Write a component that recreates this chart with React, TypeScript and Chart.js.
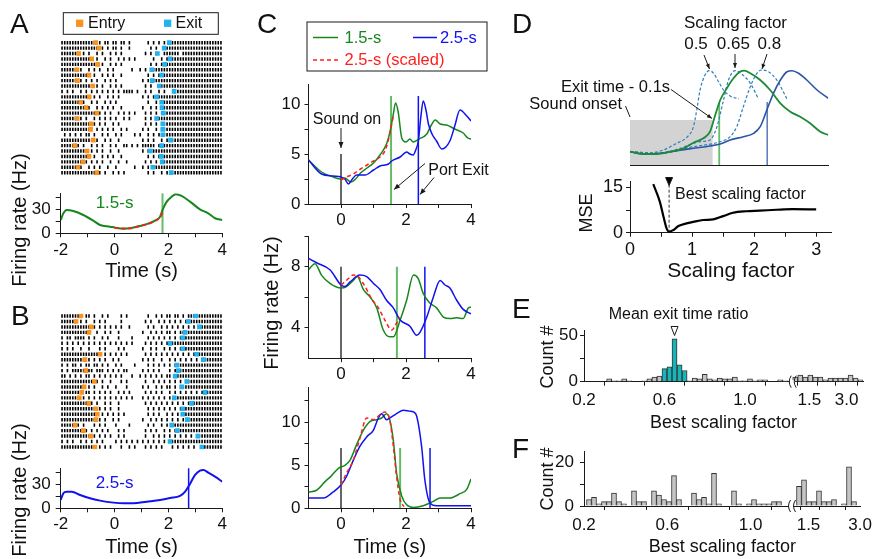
import React, { useEffect, useRef } from "react";
import { Chart, registerables } from "chart.js";

Chart.register(...registerables);

const W = 872;
const H = 559;
const FONT = "'Liberation Sans', Arial, Helvetica, sans-serif";
const INK = "#1a1a1a";

const GREEN = "#16871c";
const LIGHT_GREEN = "#66bb66";
const BLUE = "#1212ee";
const RED = "#ff1e1e";
const ORANGE = "#f7931e";
const CYAN = "#22b2ef";
const D_GREEN = "#1c8a36";
const D_BLUE = "#2d55a6";
const D_DASH = "#2f7fc1";
const TEAL = "#17b5b8";
const GREY = "#c4c4c4";

// ---------------- A / B rasters ----------------
const RASTER_START = -2;
const RASTER_BIN = 0.1;
const A_TRIALS = [
  "1111111111 111.1.11.1 1.11.1.... ..1.1.1.1. 1111111111 1111111111",
  "1111111111 1111.1.1.1 1.1..1.... ...1.1..11 1111111111 1111111111",
  "1111111.1. 1..1.1..1. 1.1....... .1.1.1..11 1111.11111 1111111111",
  "1111111111 11.1..1.1. .1.1.1.1.. ....1..1.1 .111111111 1111111111",
  "1111111111 1111.1..1. 1.1....... ...1.1.1.1 1111111111 1111111111",
  "111111.1.. 1.1.1..1.1 ......1..1 .1.1111111 1111111111 1111111111",
  "1111111111 1.1..1.1.1 ..1....... ..1.1.1.11 1111111111 1111111111",
  "111111.1.1 .1.1..1.1. 1......... 1.1.111111 1111111111 1111111111",
  "1111111111 11.1.1..1. 1.1....... .1.1..1111 1111111111 1111111111",
  "1.1.1..1.1 .1.1.1.1.1 .1.1111.1. .1.1..1.1. ..11111111 1111111111",
  "1111111111 1.1.1..1.1 .1........ 1.1.1.1111 1111111111 1111111111",
  "1111111.1. .1.1..1.1. 1......... ..1..1..11 1111111111 1111111111",
  "111111111. 1..1.1.1.1 ..1....... 1..1.1..11 1111111111 1111111111",
  "1111111111 111.1.1.1. .1.1.1.1.. .1.1.1.111 1111111111 1111111111",
  "111111.1.1 ..1.1.1.1. 1..1.1.... .1.1.11111 1111111111 1111111111",
  "1111111111 1.1.1.1..1 .1........ .1.1.1..11 1111111111 1111111111",
  "1111111111 1..1.1.1.1 ..1.1..... 1.1..1.111 1111111111 1111111111",
  ".1.1.1.1.1 1.1..1.1.. 1.1....1.1 ..1.1.1.11 1111111111 1111111111",
  "1111111111 11.1..1.1. .1........ 1.1.1..1.1 .111111111 1111111111",
  "11111.1.1. .1.1.1..1. 1..11.1.1. 11111.1.11 1111111111 1111111111",
  "1111111111 .1.1.1..1. .1........ 1.11111111 1111111111 1111111111",
  "1111111111 1.1..1.1.1 ..1....... ..1.1.1111 1111111111 1111111111",
  "11111111.1 .1.1.1..1. .1..1..... .1.1.1..11 1111111111 1111111111",
  "111111.1.. 1.1.1..1.. 1......1.. 1.1.111111 1111111111 1111111111",
  "1111111111 111.1.1..1 .1.1...... ..1.1..1.1 .111111111 1111111111",
];
const A_ENTRY = [-0.7, -0.58, -1.33, -0.85, -0.63, -1.4, -0.95, -1.38, -0.81, null, -0.94, -1.26, -1.06, -0.66, -1.39, -0.87, -0.89, null, -0.79, -1.48, -1.02, -0.95, -1.18, -1.36, -0.66];
const A_EXIT = [2.03, 1.84, 1.59, 2.06, 1.86, 1.38, 1.75, 1.4, 1.66, 2.21, 1.56, 1.75, 1.76, 1.81, 1.56, 1.79, 1.79, 1.79, 2.08, 1.75, 1.33, 1.73, 1.77, 1.42, 2.1];

const B_TRIALS = [
  "11111111.1 1.1..1.1.. ..1.1..... ..1..1.1.1 1.11.1.111 1111111111",
  "111111.1.1 ..1.1.1... ..1....... .1.1..1.1. 1.1.1.1111 1111111111",
  "1111111111 1.1.1.1.1. 1.1..1.... ..1.1..1.1 .1.1.1.1.1 ..11111111",
  "1111111111 1..1..1.1. .1........ 1..1.1.1.1 1.1.111111 1111111111",
  "1.11.1111. 1.1..1.1.. .1....1... ..1.1.1.1. 1.1.111111 1111111111",
  "1.1.1.1.1. 1.1.1.1.1. 1.1.1.1... .1.1.1.1.1 .111111111 1111111111",
  "1.1.1..1.. 1...1.1... .1.1...... 1..1.1..1. 1.1.111111 1111111111",
  "1111111111 11111.1.1. 1.1.1..... .1.1.1.1.1 .1.1.1.1.1 1111111111",
  "111111111. 1.1.1.1..1 .1........ 1.1.1..1.. 1.1.1.1.1. 1.11111111",
  "1.1.11.1.1 1.11.1.1.. 1.1....1.. ..1.1.1.1. 1.11111111 1111111111",
  "1.1.11111. 11.111.1.1 .1.11..... 1.1.1.1... 1.1.111111 1111111111",
  "11.1.1.1.1 1.1.1.1.1. 1.1...1..1 .1.1.1.1.1 1.11111111 1111111111",
  "1111111111 11.1.1..1. ..1.1..... .1..1.1.1. 1.1.1.1111 1111111111",
  "111111111. 1.1..1.1.. 1...1..... 1.1..1.1.1 1.1.111111 1111111111",
  "11111111.1 1.1.1.1.1. .1.1.1.... .1.1.1.1.. 1.1.1.1.1. 1.11111111",
  "1111111.1. 1.1.1.1.1. 1.1.1.1... 1.1.1.1.1. 1.11111111 1111111111",
  "1111111111 .1.1..1.1. .1........ .1.1.1.1.1 .1.1.1.1.1 1111111111",
  "1111111111 111.1.1.1. .1........ ..1.1.1.1. 1.1.111111 1111111111",
  "1111111111 1111.1.1.1 .1.1...... ..1.1.1..1 .1.1.11111 1111111111",
  "1111111111 111.1.1..1 .1........ 1..1.1.1.1 .1.1.1.111 1111111111",
  "11111.1.1. ..1.1.1... 1....1.... ..1.1..1.1 .111111111 1111111111",
  "11111111.1 .1.1.1.1.. .1.1...... .1.1.1..1. 1.11111111 1111111111",
  "1111111111 1.1.1.1.1. .1.1...... .1..1.1.1. 1.1.1.1.1. .111111111",
  "1.1.1..1.1 .1.1.1.... 1.1.1.1.1. 1.1.1.1.1. .111111111 1111111111",
  "1111111111 111.1.1.1. ..1..1.1.. .1.1.1.1.. .1.1.1.1.1 ..11111111",
];
const B_ENTRY = [-1.25, -1.43, -0.87, -0.95, null, null, null, -0.54, -1.1, null, -1.07, null, -0.75, -1.13, -1.22, -1.31, -0.96, -0.69, -0.64, -0.69, -1.47, -1.16, -0.89, null, -0.73];
const B_EXIT = [3.01, 2.74, 3.15, 2.62, 2.53, 2.06, 2.53, 3.05, 3.3, 2.31, 2.37, 2.25, 2.68, 2.5, 3.36, 2.22, 2.86, 2.53, 2.53, 2.7, 2.12, 2.33, 3.09, 2.06, 3.24];

// ---------------- A / B firing rate ----------------
const TIME_TICKS = [-2, -1, 0, 1, 2, 3, 4];
const TIME_LABELS = ["-2", "", "0", "", "2", "", "4"];
const RATE_TICKS = [0, 15, 30, 45];
const RATE_LABELS = ["0", "", "30", ""];
const A_TIME = [-2, -1.9, -1.78, -1.53, -1.16, -0.79, -0.54, -0.17, 0.02, 0.33, 0.57, 0.95, 1.25, 1.5, 1.69, 1.79, 1.94, 2.12, 2.28, 2.49, 2.8, 3.17, 3.48, 3.73, 4];
const A_RATE = [16.7, 25, 29.2, 27.9, 22.9, 15.8, 10.4, 8.3, 7.1, 5.8, 6.3, 9.2, 12.1, 15.8, 20.8, 30, 39.6, 45.8, 48.8, 46.7, 39.6, 30, 25, 18.8, 16.7];
const A_SCALED_TIME = [0, 0.3, 0.6, 0.9, 1.2, 1.5, 1.7, 1.8];
const A_SCALED_RATE = [7.0, 6.0, 6.3, 8.8, 11.5, 15.5, 20.5, 27];
const A_MEAN_EXIT = 1.78;
const B_TIME = [-2, -1.9, -1.78, -1.59, -1.28, -0.91, -0.54, -0.04, 0.33, 0.7, 1.19, 1.69, 2.06, 2.43, 2.62, 2.78, 2.99, 3.17, 3.3, 3.48, 3.73, 4];
const B_RATE = [10.4, 18.8, 20.8, 20.8, 16.7, 12.5, 9.6, 7.1, 6.3, 6.3, 8.3, 10.4, 12.9, 15.4, 20.8, 29.2, 41.7, 47.1, 47.9, 44.6, 39.6, 33.3];
const B_MEAN_EXIT = 2.75;

// ---------------- C ----------------
const C_TICKS = [0, 1, 2, 3, 4];
const C_LABELS = ["0", "", "2", "", "4"];
const C1_GREEN_T = [-1, -0.6, -0.24, 0, 0.12, 0.3, 0.45, 0.6, 0.8, 1.0, 1.2, 1.4, 1.5, 1.6, 1.68, 1.76, 1.87, 2.0, 2.12, 2.22, 2.4, 2.64, 2.78, 2.9, 3.05, 3.25, 3.5, 3.76, 3.9, 4.0];
const C1_GREEN = [4.4, 3.2, 2.7, 2.5, 2.6, 2.2, 2.5, 3.1, 3.6, 4.1, 4.9, 6.0, 7.1, 8.8, 10.1, 9.2, 6.6, 6.2, 6.5, 6.2, 6.5, 7.0, 7.9, 8.4, 8.0, 7.9, 7.5, 7.1, 6.6, 6.5];
const C1_BLUE_T = [-1, -0.6, -0.24, 0, 0.12, 0.23, 0.35, 0.48, 0.74, 1.0, 1.2, 1.46, 1.56, 1.82, 2.02, 2.12, 2.22, 2.3, 2.38, 2.45, 2.53, 2.62, 2.69, 2.8, 2.94, 3.1, 3.35, 3.5, 3.66, 3.87, 4.0];
const C1_BLUE = [4.4, 3.0, 2.8, 2.7, 2.5, 2.0, 2.5, 2.9, 2.9, 3.4, 3.8, 4.0, 4.3, 4.7, 5.2, 5.0, 4.9, 5.4, 6.3, 8.5, 10.3, 9.3, 8.0, 7.0, 6.3, 5.5, 6.3, 7.8, 9.4, 8.8, 8.3];
const C1_RED_T = [0, 0.17, 0.38, 0.6, 0.8, 1.0, 1.2, 1.35, 1.45, 1.55, 1.61];
const C1_RED = [2.4, 2.7, 3.0, 3.5, 3.9, 4.3, 4.7, 5.3, 6.3, 7.8, 8.8];
const C1_EXITS = [1.54, 2.38];

const C2_BLUE_T = [-1, -0.75, -0.34, 0, 0.12, 0.28, 0.58, 0.79, 1.0, 1.2, 1.4, 1.61, 1.82, 2.12, 2.33, 2.43, 2.64, 2.84, 3.05, 3.2, 3.35, 3.56, 3.76, 4.0];
const C2_BLUE = [8.55, 8.26, 7.8, 6.8, 6.7, 7.0, 7.45, 7.35, 6.9, 6.5, 5.8, 5.3, 4.5, 4.1, 3.5, 3.7, 4.7, 6.0, 7.1, 6.8, 6.6, 5.8, 5.2, 4.9];
const C2_GREEN_T = [-1, -0.8, -0.6, -0.34, 0, 0.17, 0.38, 0.5, 0.69, 0.9, 1.1, 1.3, 1.5, 1.61, 1.82, 2.02, 2.23, 2.38, 2.53, 2.74, 2.94, 3.15, 3.35, 3.56, 3.76, 3.92, 4.0];
const C2_GREEN = [7.8, 8.2, 7.45, 6.9, 6.6, 6.7, 7.1, 7.35, 6.5, 6.0, 5.3, 3.85, 3.4, 3.4, 4.5, 5.8, 7.45, 7.2, 6.25, 5.6, 5.3, 4.7, 4.6, 4.65, 4.6, 5.3, 5.35];
const C2_RED_T = [0, 0.17, 0.38, 0.53, 0.74, 0.94, 1.15, 1.35, 1.56, 1.71, 1.8];
const C2_RED = [6.8, 7.1, 7.45, 7.35, 6.7, 5.9, 5.3, 4.5, 3.85, 4.3, 4.7];
const C2_EXITS = [1.72, 2.58];

const C3_GREEN_T = [-1, -0.75, -0.49, -0.29, -0.08, 0.12, 0.28, 0.48, 0.69, 0.9, 1.1, 1.25, 1.4, 1.5, 1.61, 1.71, 1.87, 2.02, 2.23, 2.53, 2.84, 3.05, 3.35, 3.66, 3.87, 4.0];
const C3_GREEN = [1.9, 2.1, 3.1, 3.8, 4.65, 5.0, 5.6, 7.4, 9.1, 10.1, 10.3, 10.5, 11.0, 10.3, 7.9, 4.1, 1.4, 0.4, 0.1, 0.3, 0.8, 1.2, 1.2, 1.7, 2.2, 3.4];
const C3_BLUE_T = [-1, -0.54, -0.24, 0, 0.17, 0.38, 0.58, 0.79, 1.0, 1.15, 1.25, 1.4, 1.5, 1.71, 1.92, 2.1, 2.23, 2.33, 2.48, 2.58, 2.74, 2.94, 3.35, 4.0];
const C3_BLUE = [1.2, 1.2, 1.9, 2.7, 3.7, 5.6, 7.2, 8.3, 9.1, 10.5, 11.0, 10.3, 10.5, 11.0, 11.4, 11.3, 11.2, 10.7, 7.2, 3.3, 0.6, 0.3, 0.3, 0.3];
const C3_RED_T = [0, 0.17, 0.38, 0.58, 0.79, 1.0, 1.2, 1.35, 1.5, 1.61, 1.71, 1.82, 1.94];
const C3_RED = [2.7, 4.1, 5.6, 8.1, 10.5, 10.3, 10.9, 11.2, 10.3, 7.2, 3.7, 1.0, 0.2];
const C3_EXITS = [1.82, 2.74];

// ---------------- D ----------------
const D_GREEN_X = [0, 0.4, 0.81, 1.21, 1.62, 1.92, 2.22, 2.42, 2.58, 2.73, 2.93, 3.13, 3.33, 3.46, 3.64, 3.94, 4.24, 4.55, 4.85, 5.15, 5.45, 5.76, 6.0];
const D_GREEN_Y = [1.33, 1.1, 1.1, 1.33, 1.67, 2.23, 2.67, 3.33, 5.0, 6.5, 7.67, 8.67, 9.33, 9.43, 9.17, 8.5, 7.5, 6.17, 5.33, 4.83, 4.17, 3.33, 3.0];
const D_BLUE_X = [0, 0.4, 0.91, 1.41, 1.92, 2.42, 2.73, 3.03, 3.43, 3.74, 3.94, 4.14, 4.34, 4.55, 4.75, 4.9, 5.1, 5.35, 5.66, 6.0];
const D_BLUE_Y = [1.33, 1.1, 1.17, 1.43, 1.67, 1.9, 2.1, 2.5, 2.83, 3.17, 3.83, 5.5, 7.17, 8.5, 9.33, 9.43, 9.17, 8.5, 7.5, 6.67];
const D_S050_X = [0, 0.5, 1.01, 1.41, 1.72, 1.92, 2.02, 2.12, 2.27, 2.4, 2.53, 2.68, 2.83, 3.03, 3.3];
const D_S050_Y = [1.33, 1.17, 1.5, 2.17, 2.77, 3.83, 5.5, 7.5, 9.0, 9.43, 9.17, 8.33, 7.5, 6.9, 6.6];
const D_S065_X = [0, 0.91, 1.52, 2.12, 2.42, 2.63, 2.83, 2.98, 3.18, 3.38, 3.64, 3.89];
const D_S065_Y = [1.33, 1.17, 1.67, 2.33, 2.5, 3.83, 6.5, 8.5, 9.43, 9.1, 8.17, 6.6];
const D_S080_X = [0, 0.91, 1.92, 2.73, 3.03, 3.23, 3.43, 3.64, 3.84, 3.99, 4.19, 4.44, 4.75];
const D_S080_Y = [1.33, 1.17, 1.83, 2.33, 2.83, 3.83, 5.83, 7.83, 9.17, 9.5, 9.33, 8.5, 6.6];
const D_EXIT_GREEN = 2.7;
const D_EXIT_BLUE = 4.15;
const D_WINDOW_END = 2.5;
const D_WINDOW_TOP = 4.5;

const MSE_X = [0.375, 0.48, 0.54, 0.59, 0.63, 0.7, 0.78, 0.91, 1.02, 1.18, 1.34, 1.5, 1.66, 1.87, 2.09, 2.36, 2.62, 3.0];
const MSE_Y = [16.1, 10.3, 5.3, 1.4, 0.3, 0.9, 2.2, 3.1, 3.6, 4.2, 4.4, 5.5, 6.6, 7.1, 7.3, 7.6, 7.8, 7.7];
const BEST_FACTOR = 0.63;
const MSE_X_TICKS = [0, 0.5, 1, 1.5, 2, 2.5, 3];
const MSE_X_LABELS = ["0", "", "1", "", "2", "", "3"];

// ---------------- E / F histograms ----------------
const E_LEFT_COUNTS = [0, 0, 0, 0, 0, 3, 1, 1, 3, 1, 0, 0, 1, 3, 5, 6, 14, 16, 46, 18, 12, 1, 4, 3, 8, 3, 2, 4, 3, 3, 5, 1, 1, 3, 1, 2, 2, 0, 0, 2, 1];
const E_RIGHT_COUNTS = [5, 7, 5, 7, 5, 5, 2, 4, 4, 4, 4, 7, 4, 2];
const E_HIGHLIGHT_BINS = [16, 17, 18, 19, 20];
const E_MEAN_RATIO = 0.65;
const F_LEFT_COUNTS = [0, 3, 4, 1, 2, 2, 6, 2, 1, 0, 7, 2, 2, 0, 7, 5, 3, 2, 14, 3, 0, 0, 6, 3, 4, 1, 15, 1, 0, 0, 7, 1, 0, 1, 3, 1, 1, 1, 2, 2];
const F_RIGHT_COUNTS = [9, 12, 2, 2, 7, 2, 2, 3, 0, 1, 18, 2];
const FACTOR_TICKS = [0.2, 0.4, 0.6, 0.8, 1.0, 1.2, 1.5, 2.0, 3.0];
const FACTOR_LABELS = ["0.2", "", "0.6", "", "1.0", "", "1.5", "", "3.0"];

// broken-axis transforms (value -> bin coordinate)
const E_RIGHT_START = 42;
const F_RIGHT_START = 43;
const eBin = (v: number) => (v <= 1.3 ? (v - 0.2) / 0.025 : 44.8 + 10.7 * Math.log(v / 1.5));
const fBin = (v: number) => (v <= 1.3 ? (v - 0.2) / 0.024 : 44.9 + 14.9 * Math.log(v / 1.5));

// ---------------- helpers ----------------
const pts = (xs: number[], ys: number[]) => xs.map((x, i) => ({ x, y: ys[i] }));

function curve(xs: number[], ys: number[], color: string, w = 1.5, dash: number[] = [], order = 1) {
  return {
    type: "line",
    data: pts(xs, ys),
    borderColor: color,
    borderWidth: w,
    borderDash: dash,
    pointRadius: 0,
    fill: false,
    cubicInterpolationMode: "monotone",
    order,
  };
}
function vline(x: number, y0: number, y1: number, color: string, w = 1.5, dash: number[] = [], order = 3) {
  return {
    type: "line",
    data: [{ x, y: y0 }, { x, y: y1 }],
    borderColor: color,
    borderWidth: w,
    borderDash: dash,
    pointRadius: 0,
    tension: 0,
    order,
  };
}

function rasterSets(trials: string[], entry: (number | null)[], exit: number[]) {
  const spikes: any[] = [];
  trials.forEach((row, k) => {
    const s = row.replace(/\s/g, "");
    for (let i = 0; i < s.length; i++) {
      if (s[i] === "1") spikes.push({ x: RASTER_START + (i + 0.5) * RASTER_BIN, y: k + 1 });
    }
  });
  const ent = entry.map((t, k) => (t == null ? null : { x: t, y: k + 1 })).filter(Boolean);
  const ex = exit.map((t, k) => ({ x: t, y: k + 1 }));
  return [
    { data: spikes, pointStyle: "line", pointRotation: 90, pointRadius: 1.7, borderColor: "#000", pointBorderColor: "#000", pointBorderWidth: 1.6, borderWidth: 1.6, order: 2 },
    { data: ent, pointStyle: "rect", pointRadius: 3.3, pointBackgroundColor: ORANGE, backgroundColor: ORANGE, pointBorderWidth: 0, borderWidth: 0, order: 0 },
    { data: ex, pointStyle: "rect", pointRadius: 3.3, pointBackgroundColor: CYAN, backgroundColor: CYAN, pointBorderWidth: 0, borderWidth: 0, order: 0 },
  ];
}

function histSet(left: number[], right: number[], rightStart: number, highlight: number[]) {
  const data: any[] = [];
  left.forEach((c, i) => { if (c > 0) data.push({ x: i, y: c }); });
  right.forEach((c, j) => { if (c > 0) data.push({ x: rightStart + j, y: c }); });
  return {
    type: "bar",
    data,
    backgroundColor: (ctx: any) => (ctx.raw && highlight.includes(ctx.raw.x) ? TEAL : GREY),
    borderColor: "#333",
    borderWidth: 1,
    barPercentage: 1,
    categoryPercentage: 1,
  };
}

function axis(ax: any, isX: boolean, size: number) {
  const hasTicks = !!ax.ticks && ax.ticks.length > 0;
  return {
    type: "linear",
    position: isX ? "bottom" : "left",
    min: ax.min,
    max: ax.max,
    reverse: !!ax.reverse,
    display: ax.show !== false,
    offset: false,
    grid: { display: hasTicks, drawOnChartArea: false, drawTicks: hasTicks, tickLength: ax.tick ?? 4, tickColor: INK, tickWidth: 1 },
    border: { display: ax.border !== false, color: INK, width: 1 },
    ticks: {
      display: hasTicks,
      autoSkip: false,
      maxRotation: 0,
      minRotation: 0,
      padding: ax.pad ?? 3,
      color: "#111",
      font: { family: FONT, size: ax.font ?? 17 },
      callback: (_v: any, i: number) => (ax.labels ? ax.labels[i] ?? "" : ""),
    },
    afterBuildTicks: hasTicks ? (s: any) => { s.ticks = ax.ticks.map((v: number) => ({ value: v })); } : undefined,
    afterFit: (s: any) => {
      if (isX) s.height = size; else s.width = size;
      s.paddingLeft = 0; s.paddingRight = 0; s.paddingTop = 0; s.paddingBottom = 0;
    },
    title: ax.title
      ? { display: true, text: ax.title, color: "#111", font: { family: FONT, size: ax.titleSize ?? 20 }, padding: { top: 0, bottom: 0 } }
      : { display: false },
  };
}

function paint(chart: any, items: any[]) {
  const ctx = chart.ctx;
  const xs = chart.scales.x;
  const ys = chart.scales.y;
  for (const it of items) {
    const pxX = it.px || it.pxX;
    const pxY = it.px || it.pxY;
    const X = (v: number) => (pxX ? v : xs.getPixelForValue(v));
    const Y = (v: number) => (pxY ? v : ys.getPixelForValue(v));
    ctx.save();
    ctx.strokeStyle = it.color ?? INK;
    ctx.fillStyle = it.color ?? "#111";
    ctx.lineWidth = it.w ?? 1;
    if (it.k === "text") {
      ctx.font = `${it.size ?? 16}px ${FONT}`;
      ctx.textAlign = it.align ?? "center";
      ctx.textBaseline = it.base ?? "middle";
      ctx.translate(X(it.x), Y(it.y));
      if (it.rot) ctx.rotate(it.rot);
      ctx.fillText(it.s, 0, 0);
    } else if (it.k === "line" || it.k === "arrow") {
      const x1 = X(it.x1), y1 = Y(it.y1), x2 = X(it.x2), y2 = Y(it.y2);
      ctx.setLineDash(it.dash ?? []);
      ctx.beginPath();
      ctx.moveTo(x1, y1);
      ctx.lineTo(x2, y2);
      ctx.stroke();
      if (it.k === "arrow") {
        const a = Math.atan2(y2 - y1, x2 - x1);
        const hl = it.head ?? 6, hw = it.hw ?? 2.5;
        const bx = x2 - hl * Math.cos(a), by = y2 - hl * Math.sin(a);
        ctx.setLineDash([]);
        ctx.beginPath();
        ctx.moveTo(x2, y2);
        ctx.lineTo(bx - hw * Math.sin(a), by + hw * Math.cos(a));
        ctx.lineTo(bx + hw * Math.sin(a), by - hw * Math.cos(a));
        ctx.closePath();
        ctx.fillStyle = it.color ?? INK;
        ctx.fill();
      }
    } else if (it.k === "rect") {
      const x1 = X(it.x1), y1 = Y(it.y1), x2 = X(it.x2), y2 = Y(it.y2);
      if (it.fill) { ctx.fillStyle = it.fill; ctx.fillRect(Math.min(x1, x2), Math.min(y1, y2), Math.abs(x2 - x1), Math.abs(y2 - y1)); }
      if (it.stroke) { ctx.strokeStyle = it.stroke; ctx.strokeRect(Math.min(x1, x2), Math.min(y1, y2), Math.abs(x2 - x1), Math.abs(y2 - y1)); }
    } else if (it.k === "tri") {
      const cx = X(it.x), ty = Y(it.y);
      ctx.beginPath();
      ctx.moveTo(cx - it.tw / 2, ty);
      ctx.lineTo(cx + it.tw / 2, ty);
      ctx.lineTo(cx, ty + it.th);
      ctx.closePath();
      if (it.fill) { ctx.fillStyle = it.fill; ctx.fill(); }
      ctx.strokeStyle = INK;
      ctx.lineWidth = 1;
      ctx.stroke();
    } else if (it.k === "brk") {
      const cx = X(it.x), cy = Y(it.y);
      ctx.fillStyle = "#fff";
      ctx.fillRect(cx - 2.5, cy - 1.5, 5, 3);
      ctx.strokeStyle = INK;
      ctx.lineWidth = 1;
      for (const dx of [-2.5, 2.5]) {
        ctx.beginPath();
        ctx.moveTo(cx + dx + 1.5, cy - 6);
        ctx.quadraticCurveTo(cx + dx - 2.5, cy, cx + dx + 1.5, cy + 6);
        ctx.stroke();
      }
    }
    ctx.restore();
  }
}

function annot(items: any[]) {
  return {
    id: "annot",
    beforeDatasetsDraw(chart: any) { paint(chart, items.filter((i) => i.under)); },
    afterDraw(chart: any) { paint(chart, items.filter((i) => !i.under)); },
  };
}

function build(spec: any) {
  const [x0, x1, y0, y1] = spec.area;
  return {
    type: spec.type,
    data: { datasets: spec.datasets },
    options: {
      responsive: false,
      animation: false,
      events: [],
      devicePixelRatio: 1,
      layout: { padding: { left: x0 - spec.L, top: y0, right: W - x1, bottom: H - y1 - spec.B } },
      plugins: { legend: { display: false }, tooltip: { enabled: false }, title: { display: false } },
      scales: { x: axis(spec.x, true, spec.B), y: axis(spec.y, false, spec.L) },
    },
    plugins: [annot(spec.items || [])],
  };
}

const letter = (s: string, x: number, y: number) => ({ k: "text", px: true, x, y, s, size: 28, align: "left", base: "alphabetic" });
const ylabel = (s: string, x: number, y: number, size = 20) => ({ k: "text", px: true, x, y, s, size, rot: -Math.PI / 2 });

// ---------------- chart specs ----------------
const SPECS: any[] = [
  // A raster
  {
    type: "scatter", area: [60.7, 222.3, 40, 175.4], L: 0, B: 0,
    x: { min: -2, max: 4, show: false }, y: { min: 0.5, max: 25.5, show: false, reverse: true },
    datasets: rasterSets(A_TRIALS, A_ENTRY, A_EXIT),
    items: [
      letter("A", 10, 33),
      { k: "rect", px: true, x1: 63.3, y1: 12.7, x2: 218.3, y2: 34.3, stroke: INK },
      { k: "rect", px: true, x1: 76, y1: 19.6, x2: 83.3, y2: 26.9, fill: ORANGE },
      { k: "text", px: true, x: 88, y: 23.5, s: "Entry", size: 16, align: "left" },
      { k: "rect", px: true, x1: 164, y1: 19.6, x2: 171.3, y2: 26.9, fill: CYAN },
      { k: "text", px: true, x: 175.5, y: 23.5, s: "Exit", size: 16, align: "left" },
    ],
  },
  // A rate
  {
    type: "line", area: [60.7, 222.3, 193.3, 233.3], L: 45, B: 50,
    x: { min: -2, max: 4, ticks: TIME_TICKS, labels: TIME_LABELS, title: "Time (s)", pad: 3 },
    y: { min: 0, max: 50, ticks: RATE_TICKS, labels: RATE_LABELS, tick: 5, pad: 5 },
    datasets: [
      curve(A_TIME, A_RATE, GREEN, 2, [], 2),
      curve(A_SCALED_TIME, A_SCALED_RATE, RED, 2, [4, 3], 1),
      vline(A_MEAN_EXIT, 0, 50, LIGHT_GREEN, 2, [], 3),
    ],
    items: [
      { k: "text", x: 0, y: 38, s: "1.5-s", size: 17, color: GREEN },
      ylabel("Firing rate (Hz)", 20, 220),
    ],
  },
  // B raster
  {
    type: "scatter", area: [60.7, 222.3, 313.3, 449.7], L: 0, B: 0,
    x: { min: -2, max: 4, show: false }, y: { min: 0.5, max: 25.5, show: false, reverse: true },
    datasets: rasterSets(B_TRIALS, B_ENTRY, B_EXIT),
    items: [letter("B", 11, 325)],
  },
  // B rate
  {
    type: "line", area: [60.7, 222.3, 468.3, 508.3], L: 45, B: 50.7,
    x: { min: -2, max: 4, ticks: TIME_TICKS, labels: TIME_LABELS, title: "Time (s)", pad: 2 },
    y: { min: 0, max: 50, ticks: RATE_TICKS, labels: RATE_LABELS, tick: 5, pad: 5 },
    datasets: [
      curve(B_TIME, B_RATE, BLUE, 2, [], 2),
      vline(B_MEAN_EXIT, 0, 52, BLUE, 1.5, [], 3),
    ],
    items: [
      { k: "text", x: 0, y: 31, s: "2.5-s", size: 17, color: BLUE },
      ylabel("Firing rate (Hz)", 20, 490),
    ],
  },
  // C1
  {
    type: "line", area: [308.5, 471, 84, 204], L: 45, B: 25,
    x: { min: -1, max: 4, ticks: C_TICKS, labels: C_LABELS, pad: 2 },
    y: { min: 0, max: 12, ticks: [0, 2.5, 5, 7.5, 10], labels: ["0", "", "5", "", "10"], pad: 4 },
    datasets: [
      curve(C1_RED_T, C1_RED, RED, 1.5, [4, 3], 0),
      curve(C1_GREEN_T, C1_GREEN, GREEN, 1.5, [], 2),
      curve(C1_BLUE_T, C1_BLUE, BLUE, 1.5, [], 1),
      vline(0, 0, 5, "#000", 1.2),
      vline(C1_EXITS[0], 0, 10.8, LIGHT_GREEN, 2),
      vline(C1_EXITS[1], 0, 10.8, BLUE, 1.5),
    ],
    items: [
      letter("C", 257, 33),
      { k: "rect", px: true, x1: 307, y1: 22, x2: 487, y2: 71, stroke: INK },
      { k: "line", px: true, x1: 313, y1: 37.5, x2: 338, y2: 37.5, color: GREEN, w: 1.5 },
      { k: "text", px: true, x: 344.5, y: 38, s: "1.5-s", size: 16.5, align: "left", color: GREEN },
      { k: "line", px: true, x1: 413, y1: 37.5, x2: 437, y2: 37.5, color: BLUE, w: 1.5 },
      { k: "text", px: true, x: 440, y: 38, s: "2.5-s", size: 16.5, align: "left", color: BLUE },
      { k: "line", px: true, x1: 313, y1: 60, x2: 338, y2: 60, color: RED, w: 1.5, dash: [4, 3] },
      { k: "text", px: true, x: 344.5, y: 60.5, s: "2.5-s (scaled)", size: 16.5, align: "left", color: RED },
      { k: "text", px: true, x: 347, y: 119.5, s: "Sound on", size: 16 },
      { k: "arrow", px: true, x1: 341, y1: 128, x2: 341, y2: 148, head: 6, hw: 2.5 },
      { k: "text", px: true, x: 458.5, y: 170.5, s: "Port Exit", size: 16 },
      { k: "arrow", px: true, x1: 425, y1: 163.5, x2: 394, y2: 189.5, head: 6, hw: 2.5 },
      { k: "arrow", px: true, x1: 434, y1: 177.5, x2: 420, y2: 194.5, head: 6, hw: 2.5 },
    ],
  },
  // C2
  {
    type: "line", area: [308.5, 471, 236.2, 358.2], L: 45, B: 25,
    x: { min: -1, max: 4, ticks: C_TICKS, labels: C_LABELS, pad: 2 },
    y: { min: 2, max: 10, ticks: [4, 6, 8, 10], labels: ["4", "", "8", ""], pad: 4 },
    datasets: [
      curve(C2_RED_T, C2_RED, RED, 1.5, [4, 3], 0),
      curve(C2_GREEN_T, C2_GREEN, GREEN, 1.5, [], 2),
      curve(C2_BLUE_T, C2_BLUE, BLUE, 1.5, [], 1),
      vline(0, 2, 8, "#000", 1.2),
      vline(C2_EXITS[0], 2, 8, LIGHT_GREEN, 2),
      vline(C2_EXITS[1], 2, 8, BLUE, 1.5),
    ],
    items: [ylabel("Firing rate (Hz)", 272.5, 303)],
  },
  // C3
  {
    type: "line", area: [308.5, 471, 387.9, 508.3], L: 45, B: 50.7,
    x: { min: -1, max: 4, ticks: C_TICKS, labels: C_LABELS, pad: 2, title: "Time (s)" },
    y: { min: 0, max: 14, ticks: [0, 2.5, 5, 7.5, 10, 12.5], labels: ["0", "", "5", "", "10", ""], pad: 4 },
    datasets: [
      curve(C3_RED_T, C3_RED, RED, 1.5, [4, 3], 0),
      curve(C3_GREEN_T, C3_GREEN, GREEN, 1.5, [], 2),
      curve(C3_BLUE_T, C3_BLUE, BLUE, 1.5, [], 1),
      vline(0, 0, 7, "#000", 1.2),
      vline(C3_EXITS[0], 0, 7, LIGHT_GREEN, 2),
      vline(C3_EXITS[1], 0, 7, BLUE, 1.5),
    ],
    items: [],
  },
  // D top
  {
    type: "line", area: [630, 828.3, 65, 165], L: 0, B: 0,
    x: { min: 0, max: 6 }, y: { min: 0, max: 10, show: false },
    datasets: [
      curve(D_S050_X, D_S050_Y, D_DASH, 1.2, [3, 2], 3),
      curve(D_S065_X, D_S065_Y, D_DASH, 1.2, [3, 2], 3),
      curve(D_S080_X, D_S080_Y, D_DASH, 1.2, [3, 2], 3),
      curve(D_BLUE_X, D_BLUE_Y, D_BLUE, 1.6, [], 2),
      curve(D_GREEN_X, D_GREEN_Y, D_GREEN, 1.8, [], 1),
      vline(D_EXIT_GREEN, 0, 6.2, LIGHT_GREEN, 1.8, [], 4),
      vline(D_EXIT_BLUE, 0, 6.3, D_BLUE, 1.2, [], 4),
    ],
    items: [
      { k: "rect", under: true, x1: 0, y1: 0, x2: D_WINDOW_END, y2: D_WINDOW_TOP, fill: "#d3d3d3" },
      letter("D", 512, 33),
      { k: "text", px: true, x: 735.5, y: 23.5, s: "Scaling factor", size: 17 },
      { k: "text", px: true, x: 696, y: 44, s: "0.5", size: 17 },
      { k: "text", px: true, x: 733.3, y: 44, s: "0.65", size: 17 },
      { k: "text", px: true, x: 769.3, y: 44, s: "0.8", size: 17 },
      { k: "arrow", px: true, x1: 704, y1: 55, x2: 709.5, y2: 69, head: 5, hw: 2 },
      { k: "arrow", px: true, x1: 735, y1: 54, x2: 735, y2: 68, head: 5, hw: 2 },
      { k: "arrow", px: true, x1: 767, y1: 54, x2: 762, y2: 69, head: 5, hw: 2 },
      { k: "text", px: true, x: 615.5, y: 87, s: "Exit time - 0.1s", size: 16.5 },
      { k: "arrow", px: true, x1: 671, y1: 89.5, x2: 712, y2: 118.5, head: 5, hw: 2 },
      { k: "text", px: true, x: 622, y: 104, s: "Sound onset", size: 16.5, align: "right" },
      { k: "line", px: true, x1: 625.5, y1: 106, x2: 630, y2: 117 },
    ],
  },
  // D MSE
  {
    type: "line", area: [630, 831.7, 181.4, 232.7], L: 45, B: 51.6,
    x: { min: 0, max: 3.25, ticks: MSE_X_TICKS, labels: MSE_X_LABELS, pad: 3, font: 18, title: "Scaling factor", titleSize: 21 },
    y: { min: 0, max: 17, ticks: [0, 7.5, 15], labels: ["0", "", "15"], pad: 3, font: 18 },
    datasets: [
      curve(MSE_X, MSE_Y, "#000", 2.2, [], 1),
      vline(BEST_FACTOR, 0, 15.8, "#333", 1, [3, 2], 2),
    ],
    items: [
      { k: "tri", x: BEST_FACTOR, pxY: true, y: 177.5, tw: 7, th: 8, fill: "#000" },
      { k: "text", px: true, x: 675, y: 195, s: "Best scaling factor", size: 16, align: "left" },
      ylabel("MSE", 587, 213, 18),
    ],
  },
  // E
  {
    type: "bar", area: [584, 863, 330.4, 381.7], L: 45, B: 52.4,
    x: { min: 0, max: 55.47, ticks: FACTOR_TICKS.map(eBin), labels: FACTOR_LABELS, pad: 4, title: "Best scaling factor", titleSize: 18 },
    y: { min: 0, max: 55, ticks: [0, 25, 50], labels: ["0", "", "50"], pad: 2 },
    datasets: [histSet(E_LEFT_COUNTS, E_RIGHT_COUNTS, E_RIGHT_START, E_HIGHLIGHT_BINS)],
    items: [
      letter("E", 512, 318),
      { k: "text", px: true, x: 678.5, y: 315, s: "Mean exit time ratio", size: 16 },
      { k: "tri", x: eBin(E_MEAN_RATIO), pxY: true, y: 326.5, tw: 7, th: 9, fill: "#fff" },
      { k: "brk", pxY: true, x: 41.4, y: 381.7 },
      ylabel("Count #", 548, 357, 18),
    ],
  },
  // F
  {
    type: "bar", area: [584, 860.75, 451.7, 506], L: 45, B: 51.5,
    x: { min: 0, max: 55.35, ticks: FACTOR_TICKS.map(fBin), labels: FACTOR_LABELS, pad: 5, title: "Best scaling factor", titleSize: 18 },
    y: { min: 0, max: 25, ticks: [0, 10, 20], labels: ["0", "", "20"], pad: 6 },
    datasets: [histSet(F_LEFT_COUNTS, F_RIGHT_COUNTS, F_RIGHT_START, [])],
    items: [
      letter("F", 512, 458),
      { k: "brk", pxY: true, x: 41.5, y: 506 },
      ylabel("Count #", 548, 479, 18),
    ],
  },
];

function ChartCanvas({ spec }: { spec: any }) {
  const ref = useRef<HTMLCanvasElement>(null);
  useEffect(() => {
    const chart = new Chart(ref.current as HTMLCanvasElement, build(spec) as any);
    return () => chart.destroy();
  }, [spec]);
  return (
    <canvas
      ref={ref}
      width={W}
      height={H}
      style={{ position: "absolute", left: 0, top: 0, width: W, height: H }}
    />
  );
}

export default function App() {
  return (
    <div style={{ position: "fixed", left: 0, top: 0, width: W, height: H, background: "#fff", overflow: "hidden" }}>
      {SPECS.map((s, i) => (
        <ChartCanvas key={i} spec={s} />
      ))}
    </div>
  );
}
